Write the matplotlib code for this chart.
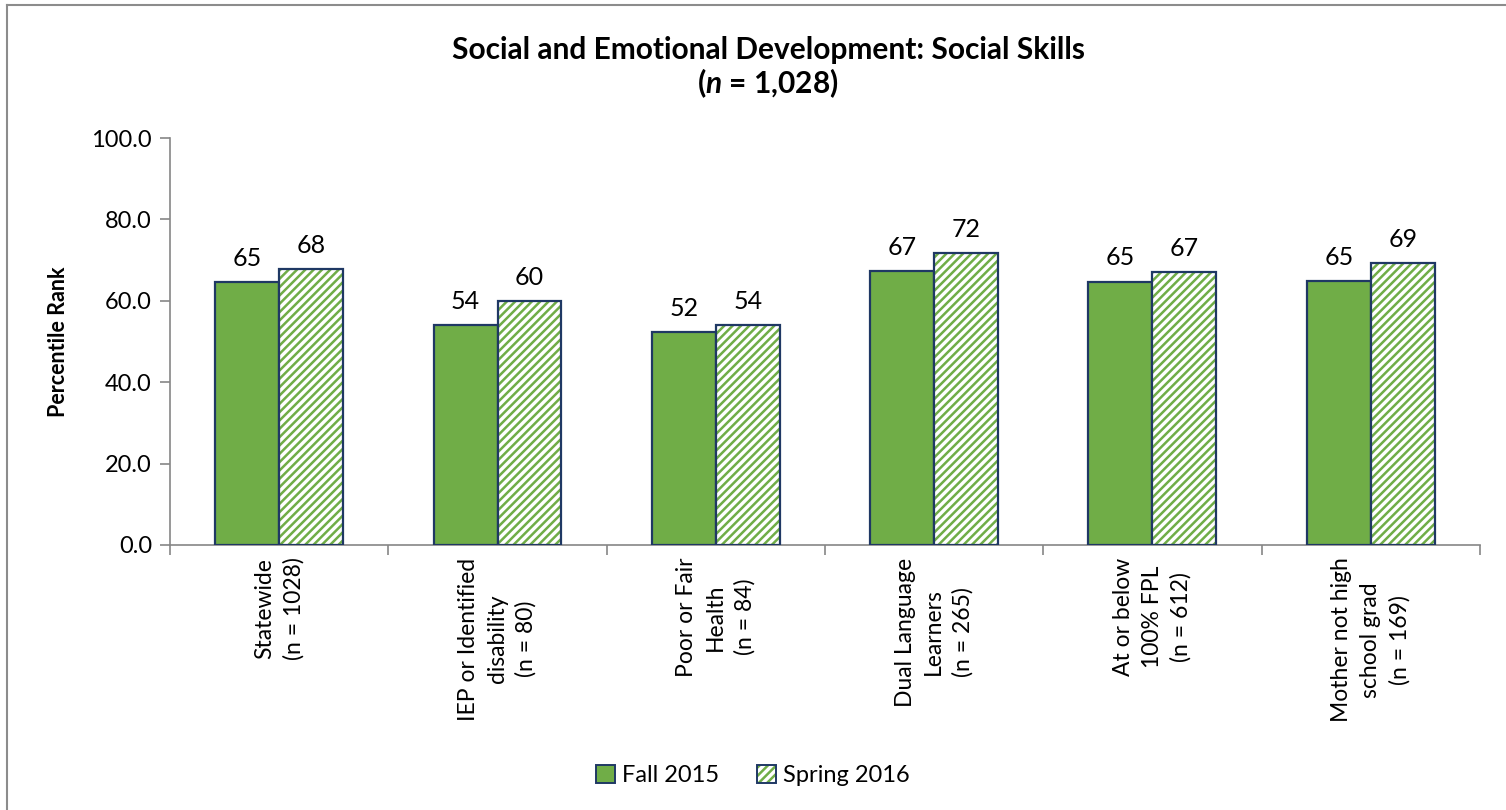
import numpy as np
import matplotlib
matplotlib.use('Agg')
import matplotlib.pyplot as plt
from matplotlib.lines import Line2D
from matplotlib.patches import Patch
from matplotlib.legend_handler import HandlerTuple

plt.rcParams['font.family'] = ['Lato', 'DejaVu Sans']
plt.rcParams['mathtext.fontset'] = 'custom'
plt.rcParams['mathtext.it'] = 'Lato:italic:bold'
plt.rcParams['mathtext.rm'] = 'Lato:bold'
plt.rcParams['hatch.linewidth'] = 1.8

CATEGORIES = [
    "Statewide\n(n = 1028)",
    "IEP or Identified\ndisability\n(n = 80)",
    "Poor or Fair\nHealth\n(n = 84)",
    "Dual Language\nLearners\n(n = 265)",
    "At or below\n100% FPL\n(n = 612)",
    "Mother not high\nschool grad\n(n = 169)",
]
SERIES = ["Fall 2015", "Spring 2016"]
fall_2015 = [64.6, 54.1, 52.4, 67.3, 64.7, 64.9]
spring_2016 = [67.8, 59.9, 54.1, 71.7, 67.1, 69.2]
y_ticks = [0, 20, 40, 60, 80, 100]

GREEN = '#70AD47'
NAVY = '#1F3864'
AXIS_GRAY = '#868686'
STRIPES = '////'


def draw_chart(save_path):
    fig = plt.figure(figsize=(15.06, 8.10), dpi=100)
    ax = fig.add_axes([0.1129, 0.3272, 0.8698, 0.5024])

    x = np.arange(len(CATEGORIES))
    width = 0.293

    # Fall: solid green
    ax.bar(x - width / 2, fall_2015, width, color=GREEN, edgecolor=NAVY,
           linewidth=1.6, zorder=3)
    # Spring: green stripes on white, then a navy outline on top
    ax.bar(x + width / 2, spring_2016, width, color='white', edgecolor=GREEN,
           hatch=STRIPES, linewidth=0, zorder=3)
    ax.bar(x + width / 2, spring_2016, width, color='none', edgecolor=NAVY,
           linewidth=1.6, zorder=4)

    # Value labels
    for xi, v in zip(x - width / 2, fall_2015):
        ax.text(xi, v + 3.0, f"{v:.0f}", ha='center', va='bottom', fontsize=18)
    for xi, v in zip(x + width / 2, spring_2016):
        ax.text(xi, v + 3.0, f"{v:.0f}", ha='center', va='bottom', fontsize=18)

    ax.set_xlim(-0.5, len(CATEGORIES) - 0.5)
    ax.set_ylim(0, 100)
    ax.set_yticks(y_ticks)
    ax.set_yticklabels([f"{t:.1f}" for t in y_ticks], fontsize=17)
    ax.set_ylabel("Percentile Rank", fontsize=15.5, fontweight='bold', labelpad=16)

    # Category labels at centres, tick marks at group boundaries
    ax.set_xticks(x)
    ax.set_xticklabels(CATEGORIES, rotation=90, fontsize=16.5, ha='center',
                       va='top', multialignment='center', linespacing=1.45)
    ax.tick_params(axis='x', length=0, pad=9)
    ax.set_xticks(np.arange(len(CATEGORIES) + 1) - 0.5, minor=True)
    ax.tick_params(axis='x', which='minor', length=7, color=AXIS_GRAY, width=1.2)
    ax.tick_params(axis='y', length=7, color=AXIS_GRAY, width=1.2, pad=6)

    for side in ['top', 'right']:
        ax.spines[side].set_visible(False)
    for side in ['left', 'bottom']:
        ax.spines[side].set_color(AXIS_GRAY)
        ax.spines[side].set_linewidth(1.2)

    fig.text(0.51, 0.938, "Social and Emotional Development: Social Skills",
             ha='center', va='center', fontsize=21.5, fontweight='bold')
    fig.text(0.51, 0.897, r"($\mathit{n}$ = 1,028)",
             ha='center', va='center', fontsize=21.5, fontweight='bold')

    fall_handle = Patch(facecolor=GREEN, edgecolor=NAVY, linewidth=1.4)
    spring_handle = (
        Patch(facecolor='white', edgecolor=GREEN, hatch=STRIPES, linewidth=0),
        Patch(facecolor='none', edgecolor=NAVY, linewidth=1.4),
    )
    fig.legend([fall_handle, spring_handle], SERIES, loc='center',
               bbox_to_anchor=(0.5, 0.043), ncol=2, frameon=False, fontsize=17,
               handlelength=0.8, handleheight=0.8, handletextpad=0.3,
               columnspacing=1.6, handler_map={tuple: HandlerTuple(ndivide=1, pad=0)})

    # Chart area border
    fig.add_artist(Line2D([0.0046, 0.0046], [0, 0.9938], color='#8C8C8C',
                          linewidth=1.5, transform=fig.transFigure))
    fig.add_artist(Line2D([0.0046, 1.0], [0.9938, 0.9938], color='#8C8C8C',
                          linewidth=1.5, transform=fig.transFigure))

    fig.savefig(save_path, dpi=100)
    plt.close(fig)


if __name__ == "__main__":
    draw_chart("out.png")
